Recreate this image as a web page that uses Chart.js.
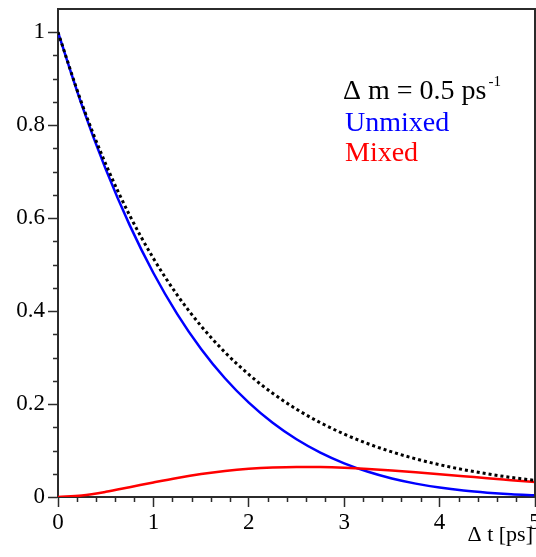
<!DOCTYPE html>
<html>
<head>
<meta charset="utf-8">
<script src="https://cdn.jsdelivr.net/npm/chart.js@4/dist/chart.umd.min.js"></script>
<style>
  html, body { margin: 0; padding: 0; background: #fff; }
  #wrap { width: 536px; height: 557px; }
</style>
</head>
<body>
<div id="wrap"><canvas id="chart" width="536" height="557"></canvas></div>
<script>
// proper time difference [ps]
const times = [0, 0.25, 0.5, 0.75, 1, 1.25, 1.5, 1.75, 2, 2.25, 2.5,
  2.75, 3, 3.25, 3.5, 3.75, 4, 4.25, 4.5, 4.75, 5]

// pure exponential decay (dotted)
const decay = [1, 0.8465, 0.7165, 0.6065, 0.5134, 0.4346, 0.3679, 0.3114,
  0.2636, 0.2231, 0.1889, 0.1599, 0.1353, 0.1146, 0.0970, 0.0821, 0.0695,
  0.0588, 0.0498, 0.0421, 0.0357]

const unmixed = [1, 0.8432, 0.7054, 0.5855, 0.4820, 0.3935, 0.3185, 0.2555,
  0.2030, 0.1597, 0.1242, 0.0955, 0.0725, 0.0542, 0.0398, 0.0288, 0.0203,
  0.0139, 0.0093, 0.0059, 0.0036]

const mixed = [0, 0.0033, 0.0111, 0.0211, 0.0314, 0.0411, 0.0494, 0.0559,
  0.0606, 0.0635, 0.0647, 0.0644, 0.0629, 0.0604, 0.0571, 0.0533, 0.0492,
  0.0449, 0.0405, 0.0363, 0.0321]

const xTicks = [0, 1, 2, 3, 4, 5]
const xTickLabels = ["0", "1", "2", "3", "4", "5"]
const yTicks = [0, 0.2, 0.4, 0.6, 0.8, 1]
const yTickLabels = ["0", "0.2", "0.4", "0.6", "0.8", "1"]

const axisColor = "#2b2b2b"
const serif = "'Liberation Serif', 'Times New Roman', serif"

const toPoints = ys => ys.map((y, i) => ({ x: times[i], y }))

// frame, minor ticks and the text block
const decorations = {
  id: "decorations",
  afterDraw(chart) {
    const { ctx, chartArea: a, scales: { x, y } } = chart
    ctx.save()
    ctx.strokeStyle = axisColor
    ctx.lineWidth = 2
    ctx.beginPath()
    ctx.moveTo(a.left, a.top)
    ctx.lineTo(a.right, a.top)
    ctx.lineTo(a.right, a.bottom)
    ctx.stroke()

    ctx.lineWidth = 1.5
    ctx.beginPath()
    for (let i = 1; i <= 20; i++) {
      if (i % 4 === 0) continue
      const py = Math.round(y.getPixelForValue(i * 0.05)) + 0.5
      ctx.moveTo(a.left - 5, py)
      ctx.lineTo(a.left, py)
    }
    for (let i = 1; i < 25; i++) {
      if (i % 5 === 0) continue
      const px = Math.round(x.getPixelForValue(i * 0.2)) + 0.5
      ctx.moveTo(px, a.bottom)
      ctx.lineTo(px, a.bottom + 5)
    }
    ctx.stroke()

    ctx.textAlign = "left"
    ctx.textBaseline = "alphabetic"
    ctx.font = "28px " + serif
    ctx.fillStyle = "#000"
    const head = "Δ m = 0.5 ps"
    ctx.fillText(head, 343, 99)
    const w = ctx.measureText(head).width
    ctx.font = "15px " + serif
    ctx.fillText("-1", 343 + w + 2, 86)

    ctx.font = "28px " + serif
    ctx.fillStyle = "#0000ff"
    ctx.fillText("Unmixed", 345, 131)
    ctx.fillStyle = "#ff0000"
    ctx.fillText("Mixed", 345, 161)

    ctx.font = "22px " + serif
    ctx.fillStyle = "#000"
    ctx.textAlign = "right"
    ctx.fillText("Δ t [ps]", 533, 541)
    ctx.restore()
  }
}

new Chart(document.getElementById("chart"), {
  type: "line",
  data: {
    datasets: [
      {
        label: "exp",
        data: toPoints(decay),
        borderColor: "#000",
        borderWidth: 3,
        borderDash: [3, 3],
        order: 0
      },
      {
        label: "Mixed",
        data: toPoints(mixed),
        borderColor: "#ff0000",
        borderWidth: 2.5,
        order: 1
      },
      {
        label: "Unmixed",
        data: toPoints(unmixed),
        borderColor: "#0000ff",
        borderWidth: 2.5,
        order: 2
      }
    ]
  },
  options: {
    responsive: false,
    animation: false,
    layout: { padding: { top: 9, right: 1, left: 0, bottom: 0 } },
    elements: {
      point: { radius: 0 },
      line: { cubicInterpolationMode: "monotone", fill: false }
    },
    plugins: {
      legend: { display: false },
      tooltip: { enabled: false }
    },
    scales: {
      x: {
        type: "linear",
        min: 0,
        max: 5,
        afterBuildTicks: s => { s.ticks = xTicks.map(v => ({ value: v })) },
        afterFit: s => { s.height = 60; s.paddingLeft = 0; s.paddingRight = 0 },
        border: { color: axisColor, width: 2 },
        grid: { drawOnChartArea: false, tickLength: 10, tickColor: axisColor, tickWidth: 1.5 },
        ticks: {
          autoSkip: false,
          maxRotation: 0,
          padding: 2,
          color: "#000",
          font: { family: serif, size: 23 },
          callback: (v, i) => xTickLabels[i]
        }
      },
      y: {
        type: "linear",
        min: 0,
        max: 1.05,
        afterBuildTicks: s => { s.ticks = yTicks.map(v => ({ value: v })) },
        afterFit: s => { s.width = 58; s.paddingTop = 0; s.paddingBottom = 0 },
        border: { color: axisColor, width: 2 },
        grid: { drawOnChartArea: false, tickLength: 10, tickColor: axisColor, tickWidth: 1.5 },
        ticks: {
          autoSkip: false,
          padding: 3,
          color: "#000",
          font: { family: serif, size: 23 },
          callback: (v, i) => yTickLabels[i]
        }
      }
    }
  },
  plugins: [decorations]
})
</script>
</body>
</html>
